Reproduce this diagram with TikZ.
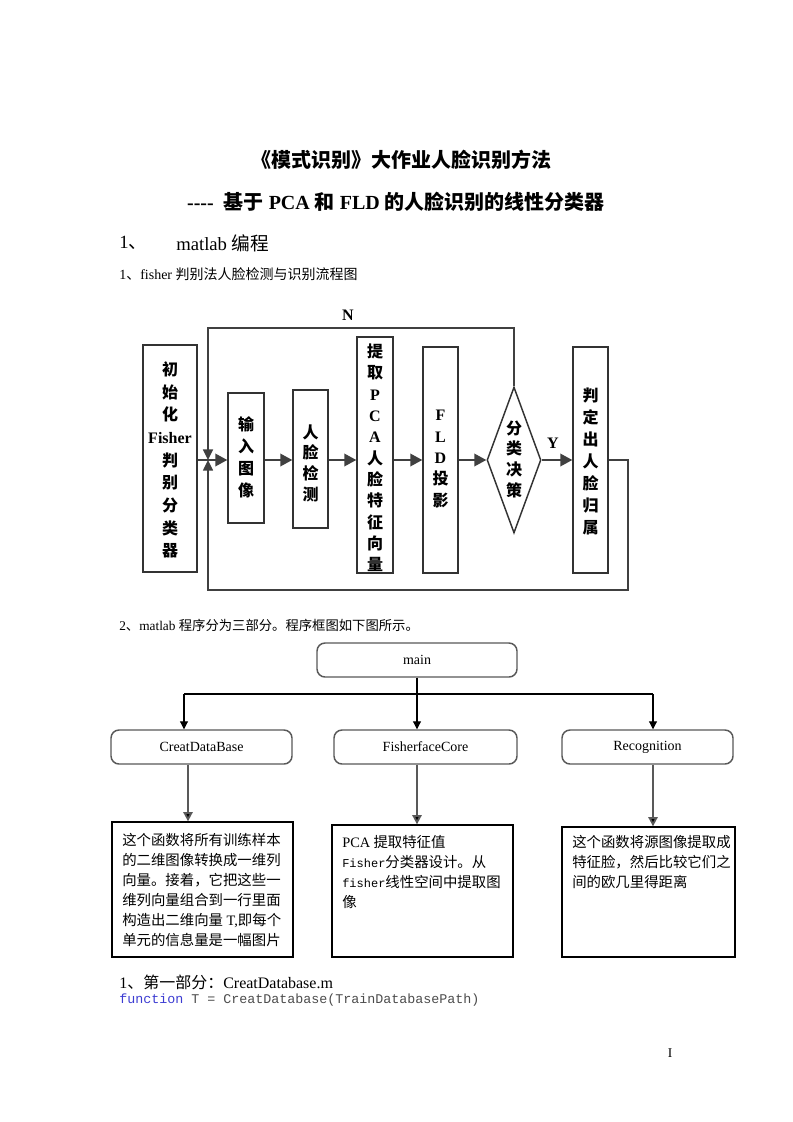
\documentclass[tikz,border=0pt]{standalone}
\usepackage{fontspec}
\setmainfont{Liberation Serif}
\setmonofont{Liberation Mono}
\newfontfamily\cjk{Noto Sans CJK SC}
\usetikzlibrary{arrows.meta,shapes.geometric,fit}
\definecolor{kwblue}{RGB}{60,60,210}
\tikzset{
  fbox/.style={draw=black!80, line width=1.1pt, inner sep=0pt},
  ftext/.style={inner sep=0pt, align=center,
    font=\fontsize{12}{17}\selectfont\bfseries\cjk},
  fline/.style={draw=black!75, line width=1.1pt},
  farr/.style={fline, -{Triangle[length=9pt,width=9.5pt]}},
  jarr/.style={fline, -{Triangle[length=8pt,width=7.5pt]}},
  flab/.style={font=\fontsize{12}{14}\selectfont\bfseries},
  rbox/.style={draw=black!65, line width=1.1pt, rounded corners=6pt, inner sep=0pt},
  rtext/.style={inner sep=0pt, font=\fontsize{10.5}{12}\selectfont},
  tbox/.style={draw=black, line width=1pt, inner sep=0pt},
  tline/.style={draw=black, line width=0.8pt},
  tarr/.style={tline, -{Triangle[length=6pt,width=6pt]}},
  garr/.style={draw=black!65, line width=1.4pt, -{Triangle[length=7pt,width=7pt,fill=black]}},
  btext/.style={anchor=north west, inner sep=0pt, align=left,
    font=\fontsize{10.8}{15}\selectfont\cjk},
}
\begin{document}
\begin{tikzpicture}[x=0.75pt,y=-0.75pt]
\useasboundingbox[fill=white] (0,0) rectangle (793,1122);

% headings
\node[font=\fontsize{15}{18}\selectfont\bfseries\cjk] (title1) at (401,160) {《模式识别》大作业人脸识别方法};
\node[font=\fontsize{15}{18}\selectfont\bfseries] (title2) at (396,202)
  {-\kern0pt-\kern0pt-\kern0pt-\ \ {\cjk 基于} PCA {\cjk 和} FLD {\cjk 的人脸识别的线性分类器}};
\node[anchor=west, inner sep=0pt, font=\fontsize{14}{16}\selectfont] (s1num) at (119,243) {1{\cjk 、}};
\node[anchor=west, inner sep=0pt, font=\fontsize{14}{16}\selectfont] (s1) at (176,243) {matlab {\cjk 编程}};
\node[anchor=west, inner sep=0pt, font=\fontsize{10.5}{12}\selectfont] (cap1) at (119,274) {1{\cjk 、}fisher {\cjk 判别法人脸检测与识别流程图}};

% ---------- flowchart 1 ----------
\coordinate (mainy) at (0,460);
\coordinate (j) at (208,460);
\coordinate (jt) at (208,328);
\coordinate (rr) at (628,460);
\coordinate (lb) at (208,590);

\node[fbox, fit={(143,345)(197,572)}] (init) {};
\node[ftext] (initt) at (170,460) {初\\始\\化\\{\rmfamily Fisher}\\判\\别\\分\\类\\器};
\node[fbox, fit={(228,393)(264,523)}] (inp) {};
\node[ftext, font=\fontsize{12}{16.5}\selectfont\bfseries\cjk] (inpt) at (246,457) {输\\入\\图\\像};
\node[fbox, fit={(293,390)(328,528)}] (det) {};
\node[ftext, font=\fontsize{12}{15.5}\selectfont\bfseries\cjk] (dett) at (310.5,463) {人\\脸\\检\\测};
\node[fbox, fit={(357,337)(393,573)}] (pca) {};
\node[ftext, font=\fontsize{12}{16}\selectfont\bfseries\cjk] (pcat) at (375,458) {提\\取\\{\rmfamily P}\\{\rmfamily C}\\{\rmfamily A}\\人\\脸\\特\\征\\向\\量};
\node[fbox, fit={(423,347)(458,573)}] (fld) {};
\node[ftext, font=\fontsize{12}{16}\selectfont\bfseries\cjk] (fldt) at (440.5,459) {{\rmfamily F}\\{\rmfamily L}\\{\rmfamily D}\\投\\影};
\node[diamond, draw=black!80, line width=1.1pt, inner sep=0pt, minimum width=40.5pt, minimum height=109.5pt] (dia) at (514,460) {};
\node[ftext, font=\fontsize{12}{15.5}\selectfont\bfseries\cjk] (diat) at (514,459) {分\\类\\决\\策};
\node[fbox, fit={(573,347)(608,573)}] (res) {};
\node[ftext, font=\fontsize{12}{16.5}\selectfont\bfseries\cjk] (rest) at (590.5,461) {判\\定\\出\\人\\脸\\归\\属};

\draw[farr] (init.east|-mainy) -- (inp.west|-mainy);
\draw[farr] (inp.east|-mainy) -- (det.west|-mainy);
\draw[farr] (det.east|-mainy) -- (pca.west|-mainy);
\draw[farr] (pca.east|-mainy) -- (fld.west|-mainy);
\draw[farr] (fld.east|-mainy) -- (dia.west);
\draw[farr] (dia.east) -- (res.west|-mainy);
\draw[jarr] (dia.north) |- (jt) -- (j);
\draw[jarr] (res.east|-mainy) -- (rr) |- (lb) -- (j);

\node[flab] (nlab) at (348,315) {N};
\node[flab] (ylab) at (553,443) {Y};

% ---------- program structure ----------
\node[anchor=west, inner sep=0pt, font=\fontsize{10}{12}\selectfont] (cap2) at (119,625)
  {2{\cjk 、}matlab {\cjk 程序分为三部分。程序框图如下图所示。}};

\node[rbox, fit={(317,643)(517,677)}] (main) {};
\node[rtext] (maint) at (main.center) {main};
\node[rbox, fit={(111,730)(292,764)}] (cdb) {};
\node[rtext] (cdbt) at (cdb.center) {CreatDataBase};
\node[rbox, fit={(334,730)(517,764)}] (fc) {};
\node[rtext] (fct) at (fc.center) {FisherfaceCore};
\node[rbox, fit={(562,730)(733,764)}] (rec) {};
\node[rtext] (rect) at (rec.center) {Recognition};

\coordinate (hl) at (184,694);
\coordinate (hr) at (653,694);
\draw[tline] (hl) -- (hr);
\draw[tarr] (main.south) -- (main.south|-fc.north);
\draw[tarr] (hl) -- (hl|-cdb.north);
\draw[tarr] (hr) -- (hr|-rec.north);

\node[tbox, fit={(112,822)(293,957)}] (b1) {};
\node[tbox, fit={(332,825)(513,957)}] (b2) {};
\node[tbox, fit={(562,827)(735,957)}] (b3) {};

\coordinate (c1) at (188,0);
\coordinate (c2) at (417,0);
\coordinate (c3) at (653,0);
\draw[garr] (cdb.south-|c1) -- (b1.north-|c1);
\draw[garr] (fc.south-|c2) -- (b2.north-|c2);
\draw[garr] (rec.south-|c3) -- (b3.north-|c3);

\node[btext] (b1t) at (122,833) {这个函数将所有训练样本\\的二维图像转换成一维列\\向量。接着，它把这些一\\维列向量组合到一行里面\\构造出二维向量{\rmfamily\ T,}即每个\\单元的信息量是一幅图片};
\node[btext] (b2t) at (342,835) {{\rmfamily PCA} 提取特征值\\{\ttfamily\fontsize{9}{15}\selectfont Fisher}分类器设计。从\\{\ttfamily\fontsize{9}{15}\selectfont fisher}线性空间中提取图\\像};
\node[btext] (b3t) at (572,835) {这个函数将源图像提取成\\特征脸，然后比较它们之\\间的欧几里得距离};

% ---------- bottom text ----------
\node[anchor=west, inner sep=0pt, font=\fontsize{12}{14}\selectfont] (part1) at (119,982)
  {1{\cjk 、第一部分：}CreatDatabase.m};
\node[anchor=west, inner sep=0pt, font=\fontsize{10}{12}\selectfont\ttfamily] (code) at (119,1000)
  {\textcolor{kwblue}{function}\textcolor{black!70}{\ T = CreatDatabase(TrainDatabasePath)}};
\node[font=\fontsize{10}{12}\selectfont] (pno) at (670,1053) {I};
\end{tikzpicture}
\end{document}
